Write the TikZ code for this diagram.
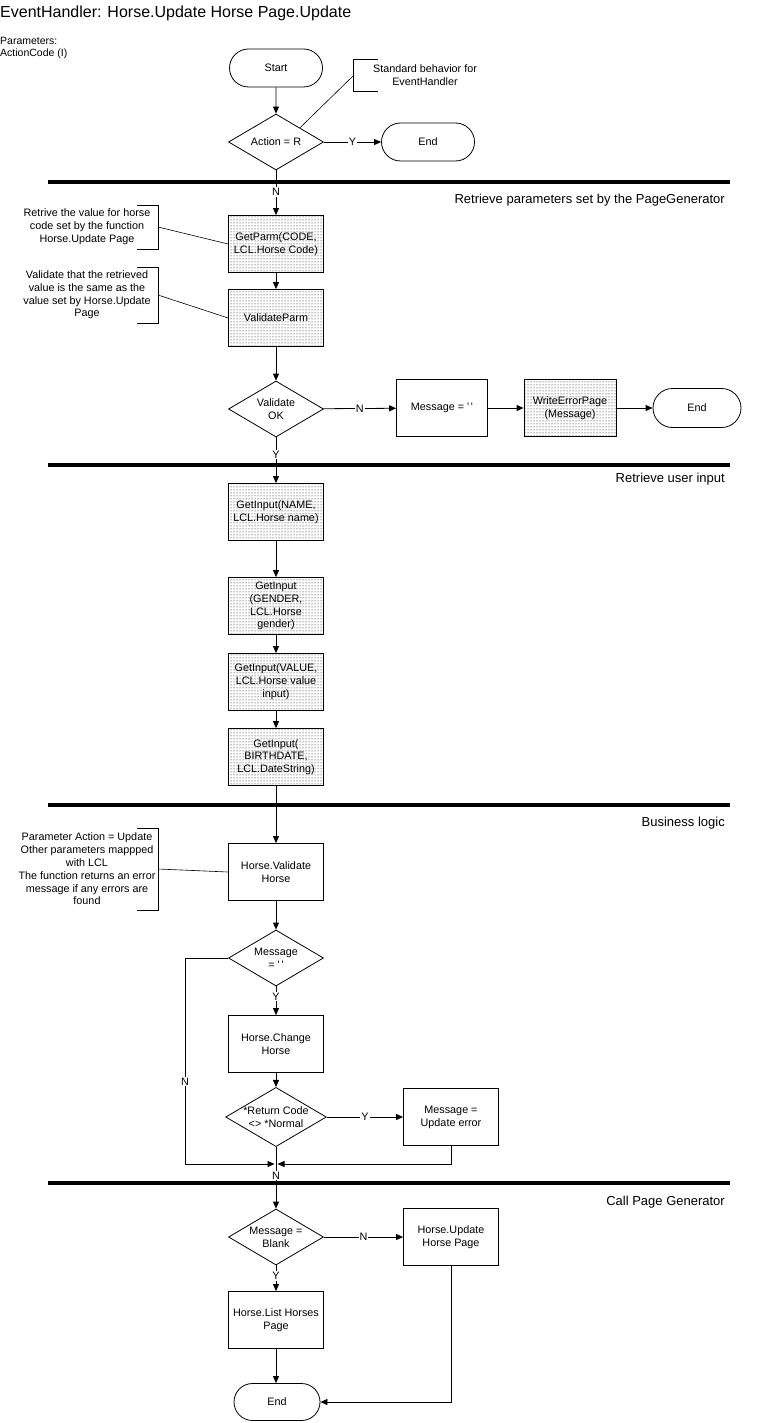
\documentclass[tikz,border=0pt]{standalone}
\usepackage{fontspec}
\setmainfont{Liberation Sans}
\usetikzlibrary{arrows.meta,shapes.geometric,shapes.misc,patterns}
\begin{document}
\begin{tikzpicture}[x=1pt,y=-1pt,
  every node/.style={font=\fontsize{10.8}{12.8}\selectfont, align=center, inner sep=1pt},
  base/.style={draw, line width=0.8pt, minimum width=95pt, minimum height=57pt},
  box/.style={base, rectangle},
  dotbox/.style={base, rectangle, pattern=dots, pattern color=black},
  term/.style={draw, line width=0.8pt, rounded rectangle, minimum width=95pt, minimum height=38pt},
  dec/.style={draw, line width=0.8pt, diamond, aspect=1.7, minimum width=95pt, minimum height=56pt, inner sep=0pt},
  arr/.style={draw, line width=0.8pt, -{Triangle[length=7pt,width=6pt]}},
  con/.style={draw, line width=0.6pt},
  lbl/.style={fill=white, inner sep=1pt},
  sep/.style={line width=4pt},
  sect/.style={font=\fontsize{13}{15}\selectfont, anchor=east}
]
\useasboundingbox (0,0) rectangle (764,1423);

% title and parameters
\node[anchor=west, font=\fontsize{16}{19}\selectfont, inner sep=0pt] (title) at (0,13) {EventHandler: Horse.Update Horse Page.Update};
\node[anchor=west, align=left, inner sep=0pt, font=\fontsize{10.5}{12.5}\selectfont] (params) at (0,48) {Parameters:\\ActionCode (I)};

% section separators
\draw[sep] (48,182) -- (730,182);
\draw[sep] (48,465) -- (730,465);
\draw[sep] (48,805) -- (730,805);
\draw[sep] (48,1183) -- (730,1183);
\node[sect] (s1) at (726,200) {Retrieve parameters set by the PageGenerator};
\node[sect] (s2) at (726,479) {Retrieve user input};
\node[sect] (s3) at (726,823) {Business logic};
\node[sect] (s4) at (726,1202) {Call Page Generator};

% nodes
\node[term] (start) at (276,68) {Start};
\node[dec] (act) at (276,142) {Action = R};
\node[term] (end1) at (428,142) {End};
\node[dotbox] (getparm) at (276,244) {GetParm(CODE,\\LCL.Horse Code)};
\node[dotbox] (valparm) at (276,318) {ValidateParm};
\node[dec] (valok) at (276,409) {Validate\\OK};
\node[box, minimum width=91pt] (msg1) at (442,408) {Message = \textquotesingle\,\textquotesingle};
\node[dotbox, minimum width=92pt] (wep) at (570,408) {WriteErrorPage\\(Message)};
\node[term, minimum width=90pt, minimum height=39pt] (end2) at (697,408) {End};
\node[dotbox] (gi1) at (276,512) {GetInput(NAME,\\LCL.Horse name)};
\node[dotbox] (gi2) at (276,606) {GetInput\\(GENDER,\\LCL.Horse\\gender)};
\node[dotbox] (gi3) at (276,682) {GetInput(VALUE,\\LCL.Horse value\\input)};
\node[dotbox] (gi4) at (276,757) {GetInput(\\BIRTHDATE,\\LCL.DateString)};
\node[box] (hvh) at (276,872) {Horse.Validate\\Horse};
\node[dec] (msg2) at (276,958) {Message\\= \textquotesingle\,\textquotesingle};
\node[box] (hch) at (276,1044) {Horse.Change\\Horse};
\node[dec] (rc) at (276,1117) {*Return Code\\<> *Normal};
\node[box] (upderr) at (451,1117) {Message =\\Update error};
\coordinate (merge) at (276,1164);
\node[dec] (blank) at (276,1237) {Message =\\Blank};
\node[box] (hup) at (451,1237) {Horse.Update\\Horse Page};
\node[box] (hlist) at (276,1320) {Horse.List Horses\\Page};
\node[term, minimum width=88pt, minimum height=37pt] (end3) at (277,1402) {End};

% notes
\node (n0) at (425,75) {Standard behavior for\\EventHandler};
\draw[con] (378,59) -- (353,59) -- (353,91) -- (378,91);
\coordinate (n0b) at (353,76);
\draw[con] (n0b) -- (act.north east);

\node (n1) at (87,227) {Retrive the value for horse\\code set by the function\\Horse.Update Page};
\draw[con] (137,205) -- (158,205) -- (158,249) -- (137,249);
\coordinate (n1b) at (158,227);
\draw[con] (n1b) -- (getparm.west);

\node (n2) at (87,295) {Validate that the retrieved\\value is the same as the\\value set by Horse.Update\\Page};
\draw[con] (137,267) -- (158,267) -- (158,323) -- (137,323);
\coordinate (n2b) at (158,295);
\draw[con] (n2b) -- (valparm.west);

\node (n3) at (87,869) {Parameter Action = Update\\Other parameters mappped\\with LCL\\The function returns an error\\message if any errors are\\found};
\draw[con] (137,828) -- (158,828) -- (158,910) -- (137,910);
\coordinate (n3b) at (158,869);
\draw[con] (n3b) -- (hvh.west);

% connectors
\draw[arr] (start) -- (act);
\draw[arr] (act) -- node[lbl]{Y} (end1);
\draw[arr] (act) -- node[lbl, pos=0.48]{N} (getparm);
\draw[arr] (getparm) -- (valparm);
\draw[arr] (valparm) -- (valok);
\draw[arr] (valok) -- node[lbl]{N} (msg1);
\draw[arr] (msg1) -- (wep);
\draw[arr] (wep) -- (end2);
\draw[arr] (valok) -- node[lbl, pos=0.38]{Y} (gi1);
\draw[arr] (gi1) -- (gi2);
\draw[arr] (gi2) -- (gi3);
\draw[arr] (gi3) -- (gi4);
\draw[arr] (gi4) -- (hvh);
\draw[arr] (hvh) -- (msg2);
\draw[arr] (msg2) -- node[lbl, pos=0.35]{Y} (hch);
\draw[arr] (hch) -- (rc);
\draw[arr] (rc) -- node[lbl]{Y} (upderr);
\draw[arr] (msg2.west) -- ++(-43,0) |- node[lbl, pos=0.3]{N} ([xshift=-1.5pt]merge);
\draw[arr] (upderr.south) |- ([xshift=1.5pt]merge);
\draw[arr] (rc) -- node[lbl, pos=0.46]{N} (blank);
\draw[arr] (blank) -- node[lbl]{N} (hup);
\draw[arr] (blank) -- node[lbl, pos=0.42]{Y} (hlist);
\draw[arr] (hlist.south) -- (hlist.south |- end3.north);
\draw[arr] (hup.south) |- (end3.east);
\end{tikzpicture}
\end{document}
